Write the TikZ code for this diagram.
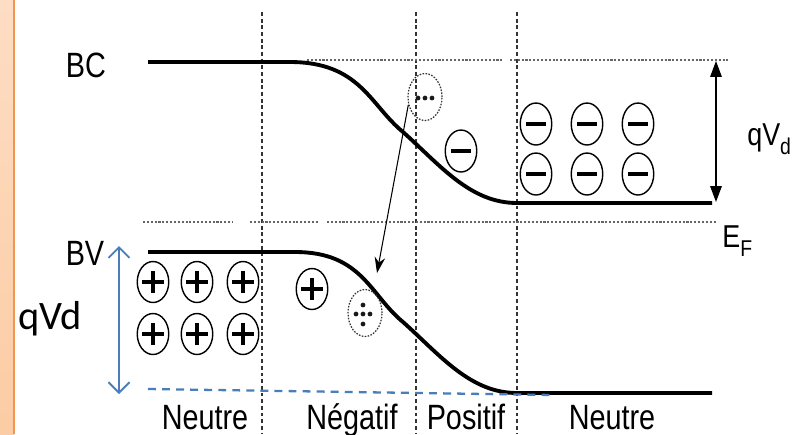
\documentclass[tikz,border=0pt]{standalone}
\usepackage{fontspec}
\setmainfont{Liberation Sans}
\newfontfamily\calibri{Carlito}
\usetikzlibrary{arrows.meta,shapes.geometric}
\definecolor{stripfill}{RGB}{252,204,164}
\definecolor{striptop}{RGB}{253,221,196}
\definecolor{stripline}{RGB}{240,150,80}
\definecolor{arrowblue}{RGB}{74,126,187}
\newcommand{\cond}[1]{\scalebox{0.82}[1]{#1}}
\newcommand{\lowsub}[1]{\raisebox{-0.3em}{\fontsize{13}{13}\selectfont #1}}

\begin{document}
\begin{tikzpicture}[x=0.02cm, y=-0.02cm, >=Stealth,
  band/.style={line width=2.2pt},
  sep/.style={line width=0.7pt, black!80, dash pattern=on 2.2pt off 1.6pt},
  ref/.style={line width=0.8pt, black!60, dash pattern=on 1.2pt off 1pt},
  lbl/.style={font=\fontsize{20}{24}\selectfont, inner sep=0pt},
  lblsmall/.style={font=\fontsize{18}{22}\selectfont, inner sep=0pt},
  ion/.style={ellipse, draw, line width=0.8pt, minimum width=0.63cm, minimum height=0.82cm, inner sep=0pt},
  plusion/.style={ion, path picture={\draw[line width=1.9pt]
      ([xshift=-0.22cm]path picture bounding box.center) -- ([xshift=0.22cm]path picture bounding box.center)
      ([yshift=-0.22cm]path picture bounding box.center) -- ([yshift=0.22cm]path picture bounding box.center);}},
  minusion/.style={ion, minimum height=0.84cm, path picture={\draw[line width=2.2pt]
      ([xshift=-0.2cm]path picture bounding box.center) -- ([xshift=0.2cm]path picture bounding box.center);}},
  carrier/.style={ellipse, draw, black!80, line width=0.7pt, dash pattern=on 0.9pt off 0.8pt, minimum width=0.68cm, minimum height=0.94cm, inner sep=0pt},
  dot/.style={circle, fill=black!90, inner sep=0pt, minimum size=0.095cm}]
\useasboundingbox (0,0) rectangle (806,434);
\fill[white] (0,0) rectangle (806,434);
\shade[top color=striptop, bottom color=stripfill] (0,0) rectangle (14,434);
\draw[line width=1.2pt, stripline] (14,0) -- (14,434);
% zone limits
\draw[sep] (262,12) -- (262,434);
\draw[sep] (416,12) -- (416,434);
\draw[sep] (517,12) -- (517,434);
% reference levels
\draw[ref] (307,60) -- (503,60);
\draw[ref] (510,60) -- (728,60);
\draw[ref] (143,222) -- (232,222);
\draw[ref] (250,222) -- (318,222);
\draw[ref] (327,222) -- (716,222);
% bands
\draw[band] (148,62) -- (290,62) .. controls (360,62) and (370,105) .. (403,132)
  .. controls (440,165) and (470,203) .. (517,203) -- (712,203);
\draw[band] (148,252) -- (295,252) .. controls (362,252) and (370,295) .. (403,322)
  .. controls (440,355) and (470,393) .. (517,393) -- (712,393);
\draw[arrowblue, line width=1.3pt, dash pattern=on 4.5pt off 3.5pt] (148,389) -- (553,395);
% labels
\node[lbl, anchor=base] (bc) at (86,77) {\cond{BC}};
\node[lbl, anchor=base] (bv) at (85,265) {\cond{BV}};
\node[lblsmall, anchor=base west] (qvtext) at (747,145) {\scalebox{0.85}[1]{qV\lowsub{d}}};
\node[lblsmall, anchor=base west] (eftext) at (722,247) {\scalebox{0.85}[1]{E\lowsub{F}}};
\node[font=\calibri\fontsize{23}{26}\selectfont, inner sep=0pt, anchor=base] (qvd) at (50,329) {qVd};
\node[lbl, anchor=base] (z1) at (205,429) {\cond{Neutre}};
\node[lbl, anchor=base] (z2) at (352,429) {\cond{Négatif}};
\node[lbl, anchor=base] (z3) at (466,429) {\cond{Positif}};
\node[lbl, anchor=base] (z4) at (612,429) {\cond{Neutre}};
% fixed charges
\foreach \cx/\nm in {153/a,197/b,243/c}{
  \node[plusion] (p1\nm) at (\cx,282) {};
  \node[plusion] (p2\nm) at (\cx,334) {};
}
\node[plusion] (pl) at (312,289) {};
\foreach \cx/\nm in {536/a,587/b,638/c}{
  \node[minusion] (n1\nm) at (\cx,124) {};
  \node[minusion] (n2\nm) at (\cx,174) {};
}
\node[minusion] (nl) at (461,151) {};
% free carriers
\node[carrier] (el) at (425,97) {};
\node[dot] at (418,98) {};
\node[dot] at (425,98) {};
\node[dot] at (432,98) {};
\node[carrier] (ho) at (365,313) {};
\node[dot] at (356,314) {};
\node[dot] at (363,314) {};
\node[dot] at (370,314) {};
\node[dot] at (363,305) {};
\node[dot] at (363,324) {};
\coordinate (jumpend) at (377,273);
\draw[-{Stealth[length=9pt,width=6pt]}, line width=0.6pt] (el.205) -- (jumpend);
% heights
\coordinate (qvtop) at (716,61);
\coordinate (qvbot) at (716,202);
\draw[{Triangle[length=9pt,width=6.5pt]}-{Triangle[length=9pt,width=6.5pt]}, line width=0.8pt] (qvtop) -- (qvbot);
\coordinate (bltop) at (119,246);
\coordinate (blbot) at (119,394);
\draw[{Straight Barb[length=6pt,width=12pt]}-{Straight Barb[length=6pt,width=12pt]}, arrowblue, line width=1.1pt] (bltop) -- (blbot);
\end{tikzpicture}
\end{document}
